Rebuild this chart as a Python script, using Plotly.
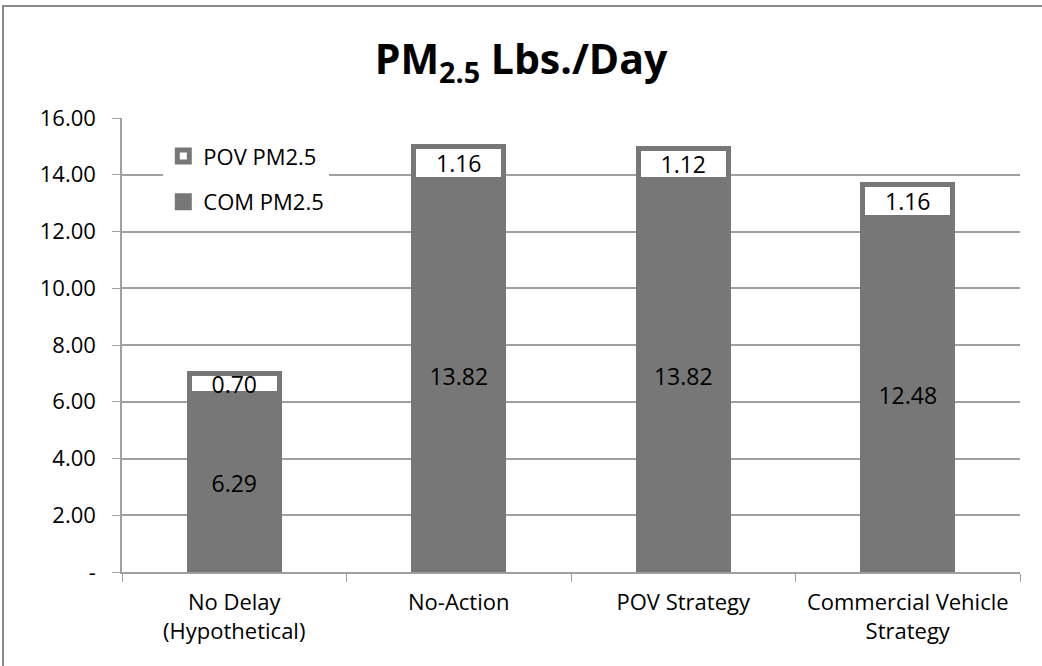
import plotly.graph_objects as go

categories = ["No Delay<br>(Hypothetical)", "No-Action", "POV Strategy", "Commercial Vehicle<br>Strategy"]
com_pm25 = [6.29, 13.82, 13.82, 12.48]
pov_pm25 = [0.70, 1.16, 1.12, 1.16]
y_tick_vals = [0, 2, 4, 6, 8, 10, 12, 14, 16]
y_tick_text = ["-", "2.00", "4.00", "6.00", "8.00", "10.00", "12.00", "14.00", "16.00"]

GRAY = "#777777"
AXIS = "#a0a0a0"
FONT = "'Open Sans', Lato, sans-serif"

fig = go.Figure()
fig.add_trace(go.Bar(
    x=categories, y=com_pm25, name="COM PM2.5",
    marker=dict(color=GRAY, line=dict(color=GRAY, width=5)),
    texttemplate="%{y:.2f}", textposition="inside", insidetextanchor="middle",
    constraintext="none",
    textfont=dict(color="black", size=23, family=FONT),
    legendgroup="com", legendrank=2,
))
fig.add_trace(go.Bar(
    x=categories, y=pov_pm25, name="POV PM2.5",
    marker=dict(color="white", line=dict(color=GRAY, width=5)),
    texttemplate="%{y:.2f}", textposition="inside", insidetextanchor="middle",
    constraintext="none",
    textfont=dict(color="black", size=23, family=FONT),
    legendgroup="pov", legendrank=1,
))

fig.update_layout(
    width=1042, height=666,
    barmode="stack", bargap=0.6,
    paper_bgcolor="white", plot_bgcolor="white",
    font=dict(family=FONT, size=22, color="black"),
    margin=dict(l=122, r=22, t=118, b=94),
    title=dict(text="<b>PM<sub>2.5</sub> Lbs./Day</b>", x=0.5, xanchor="center",
               y=0.91, yanchor="middle", font=dict(size=41, family=FONT, color="black")),
    showlegend=True,
    legend=dict(x=0.046, y=0.962, xanchor="left", yanchor="top",
                bgcolor="white", borderwidth=0, traceorder="grouped",
                tracegroupgap=14, font=dict(size=22, family=FONT)),
    xaxis=dict(showline=True, linecolor=AXIS, linewidth=1.5,
               ticks="outside", tickson="boundaries", ticklen=8, tickcolor=AXIS,
               ticklabelstandoff=10,
               tickfont=dict(size=22), showgrid=False),
    yaxis=dict(range=[0, 16], tickvals=y_tick_vals, ticktext=y_tick_text,
               showgrid=True, gridcolor=AXIS, gridwidth=1.5,
               ticks="outside", ticklen=8, tickcolor=AXIS,
               ticklabelstandoff=12,
               showline=True, linecolor=AXIS, linewidth=1.5,
               zeroline=False, tickfont=dict(size=22)),
    shapes=[dict(type="rect", xref="paper", yref="paper",
                 x0=-0.1325, x1=1.03, y0=-0.22, y1=1.2467,
                 line=dict(color="#8a8a8a", width=2), fillcolor="rgba(0,0,0,0)", layer="below")],
)

fig.write_html("out.html", config={"displayModeBar": False},
               post_script="document.body.style.margin='0';document.body.style.overflow='hidden';")
